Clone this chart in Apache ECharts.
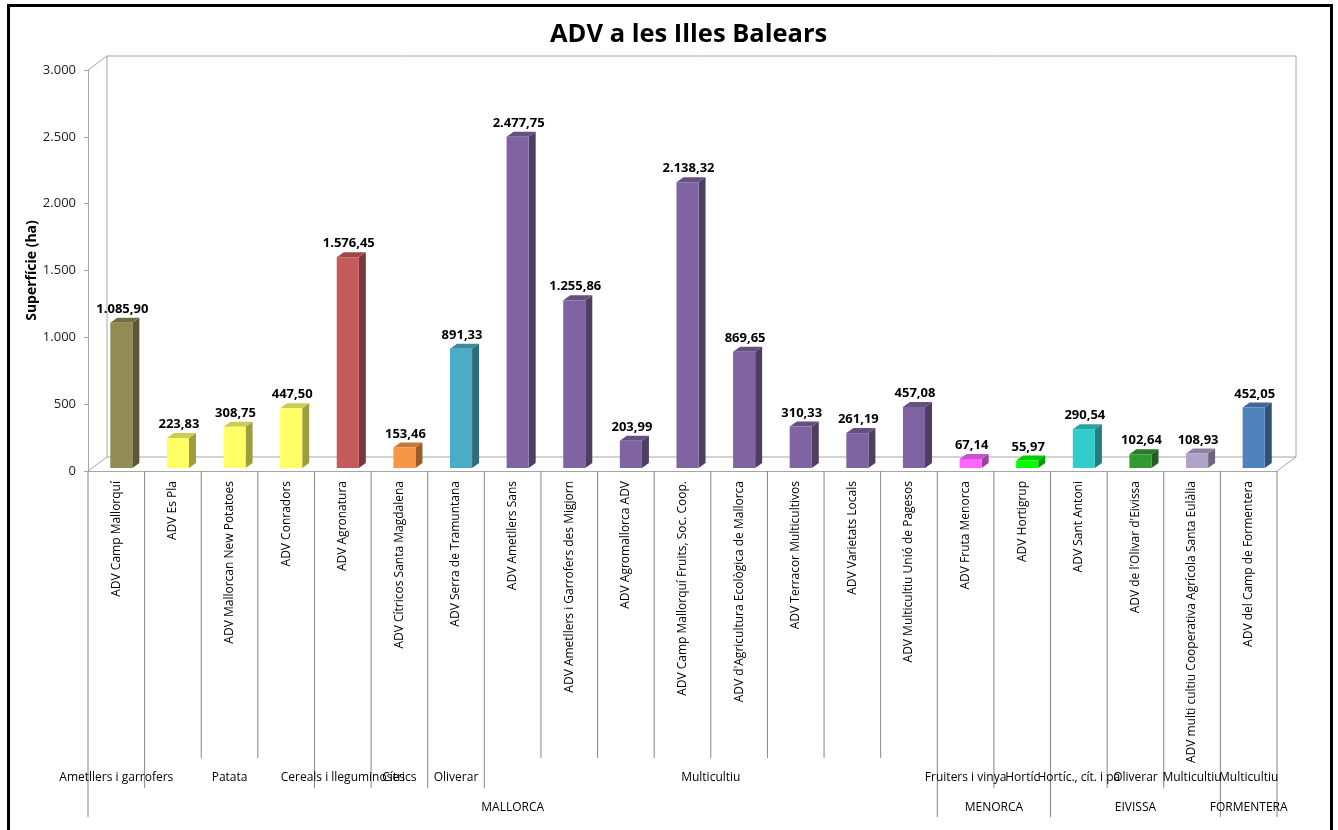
<!DOCTYPE html>
<html><head><meta charset="utf-8">
<script src="https://cdn.jsdelivr.net/npm/echarts@6/dist/echarts.min.js"></script>
<style>html,body{margin:0;padding:0;background:#fff}#c{width:1338px;height:830px}</style>
</head><body><div id="c"></div>
<script>
// ---------------- data ----------------
const categories = [
  "ADV Camp Mallorquí", "ADV Es Pla", "ADV Mallorcan New Potatoes", "ADV Conradors",
  "ADV Agronatura", "ADV Cítricos Santa Magdalena", "ADV Serra de Tramuntana",
  "ADV Ametllers Sans", "ADV Ametllers i Garrofers des Migjorn", "ADV Agromallorca ADV",
  "ADV Camp Mallorquí Fruits, Soc. Coop.", "ADV d'Agricultura Ecològica de Mallorca",
  "ADV Terracor Multicultivos", "ADV Varietats Locals", "ADV Multicultiu Unió de Pagesos",
  "ADV Fruta Menorca", "ADV Hortigrup", "ADV Sant Antoni", "ADV de l'Olivar d'Eivissa",
  "ADV multi cultiu Cooperativa Agrícola Santa Eulàlia", "ADV del Camp de Formentera"
];
const values = [1085.90, 223.83, 308.75, 447.50, 1576.45, 153.46, 891.33, 2477.75, 1255.86,
  203.99, 2138.32, 869.65, 310.33, 261.19, 457.08, 67.14, 55.97, 290.54, 102.64, 108.93, 452.05];
const cropLabels = ["Ametllers i garrofers", "Patata", "Cereals i lleguminoses", "Cítrics", "Oliverar",
  "Multicultiu", "Fruiters i vinya", "Hortíc", "Hortíc., cít. i pa", "Oliverar", "Multicultiu", "Multicultiu"];
const cropCounts = [1, 3, 1, 1, 1, 8, 1, 1, 1, 1, 1, 1];
const islandLabels = ["MALLORCA", "MENORCA", "EIVISSA", "FORMENTERA"];
const islandCounts = [15, 2, 3, 1];
const yMin = 0, yMax = 3000, yStep = 500;
const titleText = "ADV a les Illes Balears";
const yName = "Superfície (ha)";

// ---------------- style / layout ----------------
const groupColors = ['#948A54', '#FFFF66', '#C55A5A', '#F79646', '#4BACC6', '#8064A2',
  '#FF66FF', '#00FF00', '#33CCCC', '#339933', '#B3A2C7', '#4F81BD'];
const FONT = '"Open Sans", sans-serif';
const front = { left: 88, top: 70, width: 1189, height: 401 };
const barShift = { dx: 5, dy: 3 };
const wallShift = { dx: 19, dy: 14 };
const labelAreaH = 346;
const sepLen = [287, 317, 346];
const groupLabelY = [307, 337];
const wallColor = '#A6A6A6';
const sepColor = '#868686';

function bounds(counts) { const b = [0]; counts.forEach(c => b.push(b[b.length - 1] + c)); return b; }
const cropB = bounds(cropCounts), islB = bounds(islandCounts);
const barColors = [];
cropCounts.forEach((c, k) => { for (let j = 0; j < c; j++) barColors.push(groupColors[k]); });

const sepData = [];
for (let i = 0; i <= categories.length; i++) {
  const lvl = islB.includes(i) ? 2 : (cropB.includes(i) ? 1 : 0);
  sepData.push([i, sepLen[lvl]]);
}
const glData = [], glText = [];
cropLabels.forEach((t, k) => { glData.push([(cropB[k] + cropB[k + 1]) / 2, groupLabelY[0]]); glText.push(t); });
islandLabels.forEach((t, k) => { glData.push([(islB[k] + islB[k + 1]) / 2, groupLabelY[1]]); glText.push(t); });

function fmt(v, dec) {
  const parts = v.toFixed(dec).split('.');
  parts[0] = parts[0].replace(/\B(?=(\d{3})+(?!\d))/g, '.');
  return dec ? parts.join(',') : parts[0];
}
function shade(hex, f) {
  const n = parseInt(hex.slice(1), 16);
  const r = (n >> 16) & 255, g = (n >> 8) & 255, b = n & 255;
  return 'rgb(' + Math.round(r * f) + ',' + Math.round(g * f) + ',' + Math.round(b * f) + ')';
}

function renderBar(params, api) {
  const i = api.value(0), v = api.value(1);
  const p = api.coord([i, v]), q = api.coord([i, 0]);
  const w = api.size([1, 0])[0] * 0.39;
  const dx = 7, dy = 5;
  const xl = p[0] - w / 2, xr = p[0] + w / 2, yt = p[1], yb = q[1];
  const c = barColors[params.dataIndex];
  return { type: 'group', children: [
    { type: 'polygon', shape: { points: [[xr, yb], [xr + dx, yb - dy], [xr + dx, yt - dy], [xr, yt]] }, style: { fill: shade(c, 0.62) } },
    { type: 'polygon', shape: { points: [[xl, yt], [xl + dx, yt - dy], [xr + dx, yt - dy], [xr, yt]] }, style: { fill: shade(c, 0.8) } },
    { type: 'rect', shape: { x: xl, y: yt, width: w, height: yb - yt }, style: { fill: c } },
    { type: 'text', x: p[0] + 1, y: yt - dy - 2, style: { text: fmt(v, 2), align: 'center', verticalAlign: 'bottom',
      fontSize: 13, fontWeight: 'bold', fontFamily: FONT, fill: '#000' } }
  ] };
}
function renderSep(params, api) {
  const a = api.coord([api.value(0), 0]), b = api.coord([api.value(0), api.value(1)]);
  return { type: 'line', shape: { x1: a[0], y1: a[1], x2: b[0], y2: b[1] }, style: { stroke: sepColor, lineWidth: 1 } };
}
function renderGroupLabel(params, api) {
  const p = api.coord([api.value(0), api.value(1)]);
  return { type: 'text', x: p[0], y: p[1], style: { text: glText[params.dataIndex], align: 'center', verticalAlign: 'middle',
    fontSize: 12, fontFamily: FONT, fill: '#000' } };
}

const N = categories.length;
const hiddenCat = { type: 'category', data: categories, show: false };
const hiddenVal = { type: 'value', min: yMin, max: yMax, show: false };

const fb = front.top + front.height;
const option = {
  animation: false,
  backgroundColor: '#fff',
  title: { text: titleText, left: 545, top: 17,
    textStyle: { fontSize: 25.5, fontWeight: 'bold', fontFamily: FONT, color: '#000' } },
  grid: [
    { left: front.left, top: front.top, width: front.width, height: front.height, outerBoundsMode: 'none', containLabel: false },
    { left: front.left + barShift.dx, top: front.top - barShift.dy, width: front.width, height: front.height, outerBoundsMode: 'none', containLabel: false },
    { left: front.left + wallShift.dx, top: front.top - wallShift.dy, width: front.width, height: front.height, outerBoundsMode: 'none', containLabel: false,
      show: true, borderColor: wallColor, borderWidth: 1, backgroundColor: 'transparent' },
    { left: front.left, top: fb, width: front.width, height: labelAreaH, outerBoundsMode: 'none', containLabel: false }
  ],
  xAxis: [
    { type: 'category', gridIndex: 0, data: categories, boundaryGap: true,
      axisLine: { show: true, lineStyle: { color: wallColor, width: 1 } },
      axisTick: { show: false }, splitLine: { show: false },
      axisLabel: { interval: 0, rotate: 90, margin: 10, fontSize: 12, fontFamily: FONT, color: '#000' } },
    Object.assign({ gridIndex: 1 }, hiddenCat),
    Object.assign({ gridIndex: 2 }, hiddenCat),
    { type: 'value', gridIndex: 3, min: 0, max: N, show: false }
  ],
  yAxis: [
    { type: 'value', gridIndex: 0, min: yMin, max: yMax, interval: yStep,
      name: yName, nameLocation: 'middle', nameGap: 49, nameRotate: 90, nameMoveOverlap: false,
      nameTextStyle: { fontSize: 14, fontWeight: 'bold', fontFamily: FONT, color: '#000' },
      axisLine: { show: true, lineStyle: { color: wallColor, width: 1 } },
      axisTick: { show: true, length: 4, lineStyle: { color: wallColor } },
      splitLine: { show: false },
      axisLabel: { margin: 12, fontSize: 13, fontFamily: FONT, color: '#222', formatter: v => fmt(v, 0) } },
    Object.assign({ gridIndex: 1 }, hiddenVal),
    Object.assign({ gridIndex: 2 }, hiddenVal),
    { type: 'value', gridIndex: 3, min: 0, max: labelAreaH, inverse: true, show: false }
  ],
  graphic: [
    { type: 'line', silent: true, shape: { x1: front.left, y1: front.top, x2: front.left + wallShift.dx, y2: front.top - wallShift.dy }, style: { stroke: wallColor, lineWidth: 1 } },
    { type: 'line', silent: true, shape: { x1: front.left, y1: fb, x2: front.left + wallShift.dx, y2: fb - wallShift.dy }, style: { stroke: wallColor, lineWidth: 1 } },
    { type: 'line', silent: true, shape: { x1: front.left + front.width, y1: fb, x2: front.left + front.width + wallShift.dx, y2: fb - wallShift.dy }, style: { stroke: wallColor, lineWidth: 1 } },
    { type: 'rect', silent: true, shape: { x: 8.5, y: 5.5, width: 1323, height: 900 }, style: { fill: 'none', stroke: '#000', lineWidth: 3 } }
  ],
  series: [
    { type: 'custom', xAxisIndex: 1, yAxisIndex: 1, renderItem: renderBar, z: 5,
      data: values.map((v, i) => [i, v]) },
    { type: 'custom', xAxisIndex: 3, yAxisIndex: 3, renderItem: renderSep, z: 2, data: sepData },
    { type: 'custom', xAxisIndex: 3, yAxisIndex: 3, renderItem: renderGroupLabel, z: 3, data: glData }
  ]
};
const chart = echarts.init(document.getElementById('c'), null, { renderer: 'canvas' });
chart.setOption(option);
</script>
</body></html>
